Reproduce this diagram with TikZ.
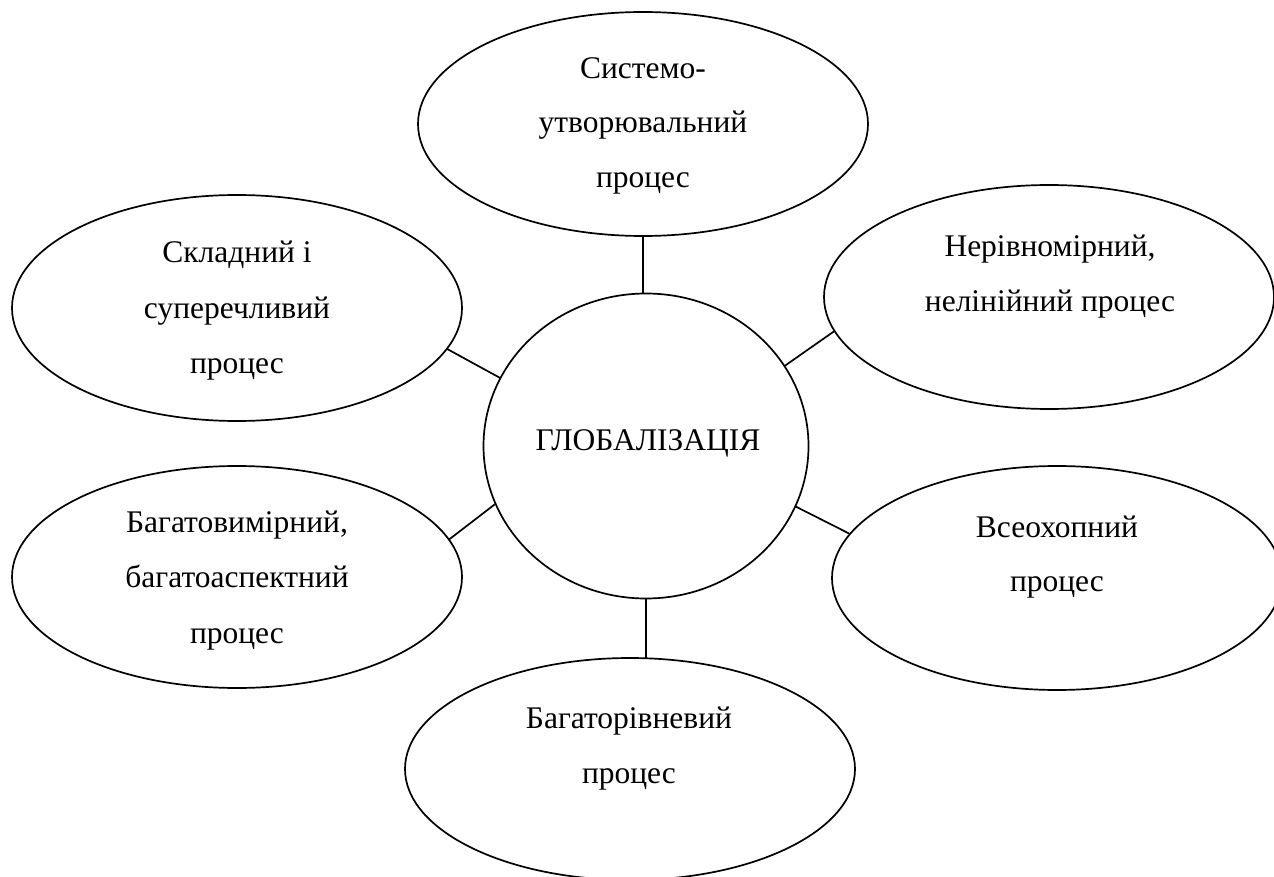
\documentclass[tikz,border=0pt]{standalone}
\usepackage{fontspec}
\IfFontExistsTF{LiberationSerif-Regular.ttf}
  {\setmainfont{LiberationSerif-Regular.ttf}[BoldFont=LiberationSerif-Bold.ttf]
   \newfontfamily\tnr{LiberationSerif-Regular.ttf}}
  {\setmainfont{Liberation Serif}\newfontfamily\tnr{Liberation Serif}}
\usetikzlibrary{shapes.geometric}
\tikzset{
  bubble/.style={draw=black, line width=1.7pt, ellipse, inner sep=0pt, outer sep=0pt,
    minimum width=450pt, minimum height=224pt},
  hub/.style={draw=black, line width=1.7pt, ellipse, inner sep=0pt, outer sep=0pt,
    minimum width=325pt, minimum height=305pt},
  txt/.style={anchor=base, inner sep=0pt, font=\tnr\fontsize{31.5pt}{40pt}\selectfont},
  link/.style={draw=black, line width=1.7pt}
}
\begin{document}
\begin{tikzpicture}[x=1pt,y=-1pt]
\useasboundingbox (0,0) rectangle (1274,877);
\clip (0,0) rectangle (1274,877);
\fill[white] (0,0) rectangle (1274,877);

\node[hub] (c) at (646,446) {};
\node[bubble] (top) at (643,124) {};
\node[bubble] (tr) at (1049,297) {};
\node[bubble, minimum height=226pt] (tl) at (237,308) {};
\node[bubble, minimum height=222pt] (bl) at (237,577) {};
\node[bubble] (br) at (1057,578) {};
\node[bubble, minimum height=222pt] (bot) at (630,769) {};

\node[txt] (c1) at (648,450) {ГЛОБАЛІЗАЦІЯ};

\node[txt] (t1) at (643,79) {Системо-};
\node[txt] (t2) at (643,133) {утворювальний};
\node[txt] (t3) at (643,188) {процес};

\node[txt] (r1) at (1050,257) {Нерівномірний,};
\node[txt] (r2) at (1050,312) {нелінійний процес};

\node[txt] (l1) at (237,263) {Складний і};
\node[txt] (l2) at (237,318) {суперечливий};
\node[txt] (l3) at (237,373) {процес};

\node[txt] (m1) at (237,532) {Багатовимірний,};
\node[txt] (m2) at (237,587) {багатоаспектний};
\node[txt] (m3) at (237,643) {процес};

\node[txt] (v1) at (1057,537) {Всеохопний};
\node[txt] (v2) at (1057,591) {процес};

\node[txt] (b1) at (629,728) {Багаторівневий};
\node[txt] (b2) at (629,783) {процес};

\draw[link] (top.south) -- (top.south |- c.north);
\draw[link] (c.30.6) -- (tr.189.5);
\draw[link] (c.155.8) -- (tl.-11.8);
\draw[link] (c.201.6) -- (bl.10.5);
\draw[link] (c.-22.9) -- (br.168.4);
\draw[link] (c.south) -- (c.south |- bot.north);
\end{tikzpicture}
\end{document}
